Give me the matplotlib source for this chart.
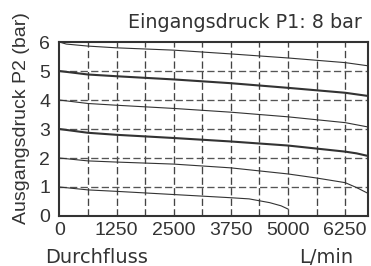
import matplotlib
matplotlib.use("Agg")
import matplotlib.pyplot as plt

plt.rcParams["font.family"] = ["Liberation Sans", "DejaVu Sans"]

# Flow curves for each set outlet pressure (P1 = 8 bar)
flow_6 = [0, 150, 625, 1250, 2500, 3750, 5000, 6250, 6750]
p2_6 = [6.0, 5.93, 5.86, 5.80, 5.72, 5.59, 5.45, 5.29, 5.18]

flow_5 = [0, 625, 1250, 2500, 3750, 5000, 6250, 6750]
p2_5 = [5.0, 4.88, 4.82, 4.71, 4.58, 4.42, 4.25, 4.14]

flow_4 = [0, 625, 1250, 2500, 3750, 5000, 6250, 6750]
p2_4 = [4.0, 3.88, 3.82, 3.71, 3.58, 3.42, 3.22, 3.07]

flow_3 = [0, 625, 1250, 2500, 3750, 5000, 6250, 6500, 6750]
p2_3 = [3.0, 2.87, 2.80, 2.69, 2.57, 2.43, 2.22, 2.16, 2.07]

flow_2 = [0, 625, 1250, 2500, 3750, 5000, 5625, 6250, 6500, 6750]
p2_2 = [2.0, 1.90, 1.86, 1.79, 1.66, 1.45, 1.31, 1.15, 0.98, 0.78]

flow_1 = [0, 625, 1250, 2500, 3750, 4150, 4600, 4850, 5000]
p2_1 = [1.0, 0.90, 0.85, 0.74, 0.63, 0.59, 0.46, 0.35, 0.24]

x_ticks = [0, 1250, 2500, 3750, 5000, 6250]
y_ticks = [0, 1, 2, 3, 4, 5, 6]

ink = "#333333"
wide = "DejaVu Sans"  # looser letter spacing like the original labels

fig = plt.figure(figsize=(3.71, 2.66), dpi=100)
ax = fig.add_axes([0.160, 0.188, 0.832, 0.654])

# grid: vertical every 625, horizontal every bar
for gx in range(625, 6750, 625):
    ax.axvline(gx, color="#444444", lw=0.95, ls=(0, (5.5, 2.5)), zorder=1)
for gy in range(1, 6):
    ax.axhline(gy, color="#555555", lw=0.95, ls=(0, (5.5, 2.5)), zorder=1)

curves = [
    (flow_6, p2_6, 0.8),
    (flow_5, p2_5, 1.5),
    (flow_4, p2_4, 0.8),
    (flow_3, p2_3, 1.5),
    (flow_2, p2_2, 0.8),
    (flow_1, p2_1, 0.8),
]
for fx, py, lw in curves:
    ax.plot(fx, py, color=ink, lw=lw, zorder=3)

ax.set_xlim(0, 6750)
ax.set_ylim(0, 6)
ax.set_xticks(x_ticks)
ax.set_yticks(y_ticks)
ax.tick_params(length=0, labelsize=14, colors=ink)
ax.tick_params(axis="y", pad=6.5)
ax.tick_params(axis="x", pad=4.5)
for side in ["left", "bottom", "right", "top"]:
    ax.spines[side].set_linewidth(1.5)
    ax.spines[side].set_color(ink)

fig.text(0.057, 0.558, "Ausgangsdruck P2 (bar)", fontsize=14, color=ink,
         rotation=90, ha="center", va="center")
fig.text(0.976, 0.915, "Eingangsdruck P1: 8 bar", fontsize=13.8, color=ink,
         ha="right", va="center", family=wide)
fig.text(0.121, 0.012, "Durchfluss", fontsize=14, color=ink, ha="left",
         va="baseline", family=wide)
fig.text(0.951, 0.012, "L/min", fontsize=14, color=ink, ha="right",
         va="baseline", family=wide)

fig.savefig("out.png", dpi=100)
